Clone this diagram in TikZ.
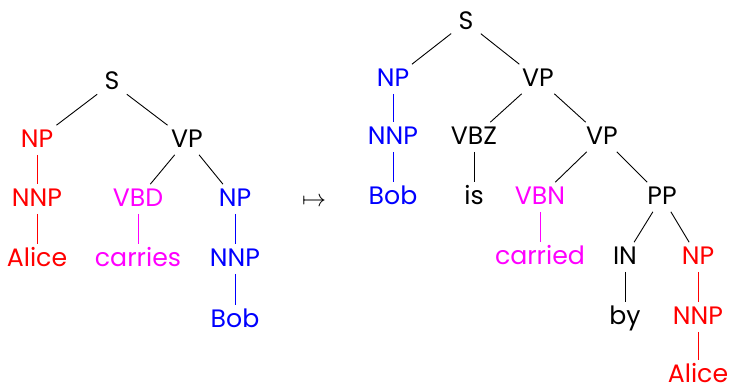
\documentclass[tikz,border=0pt]{standalone}
\usepackage{fontspec}
\setmainfont{Poppins}
\definecolor{vmag}{RGB}{255,0,255}
\tikzset{
  cat/.style={inner sep=3.5pt, text height=0.72em, text depth=0.02em, yshift=-1pt, font=\fontsize{12.6}{15}\selectfont},
  edge/.style={line width=0.45pt}
}
\begin{document}
\begin{tikzpicture}[x=0.5pt,y=-0.5pt]
                        \useasboundingbox (0,0) rectangle (729,391);
                        % left tree
                        \node[cat] (ls) at (112,81) {S};
                        \node[cat,red] (lnp) at (37,138) {NP};
                        \node[cat] (lvp) at (187,138) {VP};
                        \node[cat,red] (lnnp) at (37,197) {NNP};
                        \node[cat,vmag] (lvbd) at (138,197) {VBD};
                        \node[cat,blue] (lnpb) at (235,197) {NP};
                        \node[cat,red] (lalice) at (37,257) {Alice};
                        \node[cat,vmag] (lcarries) at (138,257) {carries};
                        \node[cat,blue] (lnnpb) at (235,257) {NNP};
                        \node[cat,blue] (lbob) at (235,318) {Bob};
                        \draw[edge] (ls) -- (lnp);
                        \draw[edge] (ls) -- (lvp);
                        \draw[edge,red] (lnp) -- (lnnp);
                        \draw[edge,red] (lnnp) -- (lalice);
                        \draw[edge] (lvp) -- (lvbd);
                        \draw[edge] (lvp) -- (lnpb);
                        \draw[edge,vmag] (lvbd) -- (lcarries);
                        \draw[edge,blue] (lnpb) -- (lnnpb);
                        \draw[edge,blue] (lnnpb) -- (lbob);

                        \node[cat] (maps) at (314,197) {$\mapsto$};

                        % right tree
                        \node[cat] (rs) at (466,20) {S};
                        \node[cat,blue] (rnp) at (393,77) {NP};
                        \node[cat] (rvp) at (538,77) {VP};
                        \node[cat,blue] (rnnp) at (393,135) {NNP};
                        \node[cat] (rvbz) at (474,135) {VBZ};
                        \node[cat] (rvpb) at (602,135) {VP};
                        \node[cat,blue] (rbob) at (393,195) {Bob};
                        \node[cat] (ris) at (474,195) {is};
                        \node[cat,vmag] (rvbn) at (540,195) {VBN};
                        \node[cat] (rpp) at (662,195) {PP};
                        \node[cat,vmag] (rcarried) at (540,255) {carried};
                        \node[cat] (rin) at (625,255) {IN};
                        \node[cat,red] (rnpr) at (698,255) {NP};
                        \node[cat] (rby) at (625,315) {by};
                        \node[cat,red] (rnnpr) at (698,315) {NNP};
                        \node[cat,red] (ralice) at (698,373) {Alice};
                        \draw[edge] (rs) -- (rnp);
                        \draw[edge] (rs) -- (rvp);
                        \draw[edge,blue] (rnp) -- (rnnp);
                        \draw[edge,blue] (rnnp) -- (rbob);
                        \draw[edge] (rvp) -- (rvbz);
                        \draw[edge] (rvp) -- (rvpb);
                        \draw[edge] (rvbz) -- (ris);
                        \draw[edge] (rvpb) -- (rvbn);
                        \draw[edge] (rvpb) -- (rpp);
                        \draw[edge,vmag] (rvbn) -- (rcarried);
                        \draw[edge] (rpp) -- (rin);
                        \draw[edge] (rpp) -- (rnpr);
                        \draw[edge] (rin) -- (rby);
                        \draw[edge,red] (rnpr) -- (rnnpr);
                        \draw[edge,red] (rnnpr) -- (ralice);
\end{tikzpicture}
\end{document}
